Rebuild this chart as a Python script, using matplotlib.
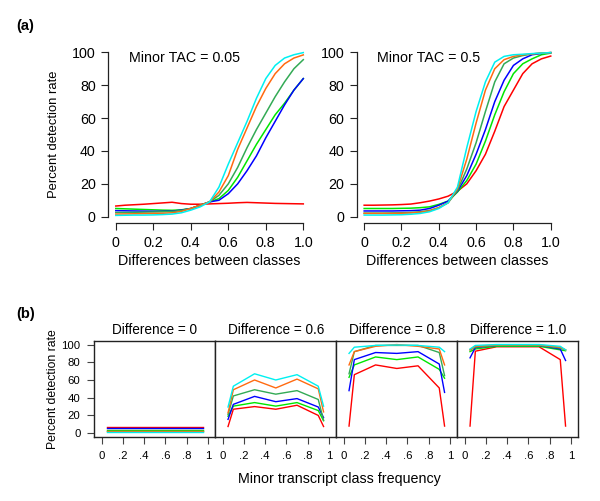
import matplotlib
matplotlib.use("Agg")
import matplotlib.pyplot as plt

plt.rcParams['font.family'] = ['Liberation Sans', 'DejaVu Sans']

# ---------------- data: panel (a) ----------------
diff_x = [0.0, 0.05, 0.1, 0.15, 0.2, 0.25, 0.3, 0.35, 0.4, 0.45, 0.5,
          0.55, 0.6, 0.65, 0.7, 0.75, 0.8, 0.85, 0.9, 0.95, 1.0]

tac005_red = [6.5, 7, 7.3, 7.6, 8, 8.4, 8.8, 8, 7.6, 7.6, 7.8,
              8, 8.2, 8.5, 8.7, 8.5, 8.3, 8.1, 8, 7.9, 7.8]
tac005_green = [5, 4.8, 4.6, 4.4, 4.2, 4, 3.9, 4.2, 5, 7, 9,
                11, 16, 24, 34, 44, 53, 62, 69, 77, 84]
tac005_blue = [3.7, 3.6, 3.5, 3.4, 3.3, 3.3, 3.4, 4, 5, 7, 9,
               10, 14, 20, 28, 37, 48, 58, 68, 77, 84]
tac005_seagreen = [2.6, 2.6, 2.7, 2.8, 2.9, 3, 3.2, 3.8, 5, 7, 9,
                   13, 20, 30, 42, 53, 63, 73, 82, 90, 95.5]
tac005_orange = [1.6, 1.7, 1.8, 1.9, 2, 2.1, 2.4, 3.2, 5, 7, 9,
                 15, 25, 41, 54, 67, 78, 87, 93, 96.5, 98.4]
tac005_cyan = [0.8, 0.9, 1, 1, 1.1, 1.3, 1.6, 2.4, 4, 6, 9,
               18, 32, 45, 58, 72, 84, 92, 96.5, 98.5, 99.8]

tac05_red = [7, 7, 7.1, 7.2, 7.4, 7.7, 8.5, 9.5, 10.8, 12.5, 15.5,
             20, 28, 38, 52, 67, 77, 87, 93, 96, 97.7]
tac05_green = [5, 5, 5, 5, 5.1, 5.2, 5.5, 6, 7.5, 9.5, 15,
               22, 32, 46, 62, 76, 87, 93, 96, 98.5, 99.5]
tac05_blue = [3.5, 3.5, 3.5, 3.5, 3.6, 3.7, 4, 5, 7, 9.5, 15.5,
              25, 38, 53, 70, 83, 92, 96, 98.5, 99.3, 99.8]
tac05_seagreen = [2.2, 2.2, 2.2, 2.3, 2.4, 2.6, 3, 3.8, 5.5, 8.5, 16,
                  29, 45, 64, 82, 93, 96.5, 98, 99, 99.5, 99.8]
tac05_orange = [2, 2, 2, 2, 2.1, 2.3, 2.7, 3.5, 5.5, 8.5, 17,
                35, 57, 77, 90, 95.5, 97.5, 98.5, 99, 99.5, 99.8]
tac05_cyan = [1, 1, 1, 1.1, 1.2, 1.5, 2, 3, 5, 8.5, 18,
              42, 64, 82, 94, 97.5, 98.5, 98.8, 99.2, 99.5, 99.8]

# ---------------- data: panel (b) ----------------
freq_x = [0.05, 0.1, 0.3, 0.5, 0.7, 0.9, 0.95]
panel_titles = ["Difference = 0", "Difference = 0.6", "Difference = 0.8", "Difference = 1.0"]

d0_red = [7, 7, 7, 7, 7, 7, 7]
d0_green = [3.5, 3.5, 3.5, 3.5, 3.5, 3.5, 3.5]
d0_blue = [5.5, 5.5, 5.5, 5.5, 5.5, 5.5, 5.5]
d0_seagreen = [2.5, 2.5, 2.5, 2.5, 2.5, 2.5, 2.5]
d0_orange = [2, 2, 2, 2, 2, 2, 2]
d0_cyan = [0.8, 0.8, 0.8, 0.8, 0.8, 0.8, 0.8]

d06_red = [7.5, 27, 30, 27, 31.5, 20, 7.5]
d06_green = [19, 30.5, 34.5, 30.5, 34.5, 25.5, 14]
d06_blue = [15.5, 32.5, 41.5, 35.5, 39, 29.5, 17.5]
d06_seagreen = [21, 42, 49, 44, 48, 38, 14.5]
d06_orange = [23, 49, 60, 51, 61, 50, 24]
d06_cyan = [29.5, 53, 67, 60, 66, 53, 30.5]

d08_red = [8, 66, 77, 73, 76, 51, 8]
d08_green = [63, 77, 86, 83, 86, 72, 62]
d08_blue = [48, 83, 91, 90, 92, 78, 46]
d08_seagreen = [67, 92, 99, 99, 99, 91, 65]
d08_orange = [77, 92, 98, 100, 98, 95, 77]
d08_cyan = [90, 97, 99, 99.5, 99, 97, 92]

d10_red = [8, 92.5, 97.5, 97.5, 97.5, 83, 8]
d10_green = [92, 95, 98, 98, 98, 94, 93]
d10_blue = [85, 96.5, 99, 99, 99, 95, 82]
d10_seagreen = [94, 97, 99, 99, 99, 96, 94]
d10_orange = [94, 98, 99.5, 99.5, 99.5, 97, 94]
d10_cyan = [95, 99, 100, 100, 100, 98, 94]

colors = {'red': '#FF0000', 'green': '#00E600', 'blue': '#0000FF',
          'seagreen': '#33AA55', 'orange': '#FF6A10', 'cyan': '#00F0F0'}
order = ['red', 'green', 'blue', 'seagreen', 'orange', 'cyan']

W, H = 600, 501
fig = plt.figure(figsize=(W / 100, H / 100), dpi=100)


def fr(x0, y0, x1, y1):
    return [x0 / W, 1 - y1 / H, (x1 - x0) / W, (y1 - y0) / H]


top_sets = [
    ("Minor TAC = 0.05", dict(red=tac005_red, green=tac005_green, blue=tac005_blue,
                              seagreen=tac005_seagreen, orange=tac005_orange, cyan=tac005_cyan),
     fr(108.3, 45.7, 310.8, 223.3), True),
    ("Minor TAC = 0.5", dict(red=tac05_red, green=tac05_green, blue=tac05_blue,
                             seagreen=tac05_seagreen, orange=tac05_orange, cyan=tac05_cyan),
     fr(356.7, 45.7, 558.2, 223.3), False),
]

fs_top = 10.3
for title, series, rect, ylab in top_sets:
    ax = fig.add_axes(rect)
    for c in order:
        ax.plot(diff_x, series[c], color=colors[c], lw=1.1)
    ax.set_xlim(-0.04, 1.04)
    ax.set_ylim(-4, 104)
    ax.spines['top'].set_visible(False)
    ax.spines['right'].set_visible(False)
    ax.spines['left'].set_bounds(0, 100)
    ax.spines['bottom'].set_bounds(0, 1)
    for s in ('left', 'bottom'):
        ax.spines[s].set_color('#222222')
        ax.spines[s].set_linewidth(0.9)
    ax.set_xticks([0, 0.2, 0.4, 0.6, 0.8, 1.0])
    ax.set_xticklabels(['0', '0.2', '0.4', '0.6', '0.8', '1.0'])
    ax.set_yticks([0, 20, 40, 60, 80, 100])
    ax.tick_params(direction='out', length=5, width=0.8, color='#222222',
                   labelsize=fs_top, pad=4)
    ax.set_xlabel("Differences between classes", fontsize=fs_top, labelpad=3)
    if ylab:
        ax.set_ylabel("Percent detection rate", fontsize=9.4, labelpad=9)
    ax.text(0.1, 0.93, title, transform=ax.transAxes, fontsize=fs_top,
            ha='left', va='center')

fig.text(16 / W, 1 - 26 / H, "(a)", fontsize=10.5, fontweight='bold', ha='left', va='center')
fig.text(16 / W, 1 - 314 / H, "(b)", fontsize=10.5, fontweight='bold', ha='left', va='center')

bottom_sets = [
    dict(red=d0_red, green=d0_green, blue=d0_blue, seagreen=d0_seagreen, orange=d0_orange, cyan=d0_cyan),
    dict(red=d06_red, green=d06_green, blue=d06_blue, seagreen=d06_seagreen, orange=d06_orange, cyan=d06_cyan),
    dict(red=d08_red, green=d08_green, blue=d08_blue, seagreen=d08_seagreen, orange=d08_orange, cyan=d08_cyan),
    dict(red=d10_red, green=d10_green, blue=d10_blue, seagreen=d10_seagreen, orange=d10_orange, cyan=d10_cyan),
]

left0 = 94.3
pw = 121.0
for i, series in enumerate(bottom_sets):
    x0 = left0 + i * pw
    ax = fig.add_axes(fr(x0, 341.0, x0 + pw, 436.7))
    for c in order:
        ax.plot(freq_x, series[c], color=colors[c], lw=1.0)
    ax.set_xlim(-0.07, 1.07)
    ax.set_ylim(-4, 104)
    for s in ax.spines.values():
        s.set_color('#222222')
        s.set_linewidth(1.0)
    ax.set_xticks([0, 0.2, 0.4, 0.6, 0.8, 1.0])
    ax.set_xticklabels(['0', '.2', '.4', '.6', '.8', '1'])
    ax.set_yticks([0, 20, 40, 60, 80, 100])
    ax.tick_params(direction='out', length=5, width=0.8, color='#444444',
                   labelsize=8.2, pad=5)
    if i == 0:
        ax.set_ylabel("Percent detection rate", fontsize=8.8, labelpad=2)
    else:
        ax.tick_params(axis='y', left=False, labelleft=False)
    ax.set_title(panel_titles[i], fontsize=9.8, pad=5)

fig.text(339 / W, 1 - 479 / H, "Minor transcript class frequency", fontsize=10.3,
         ha='center', va='center')

fig.savefig("out.png", dpi=100)
